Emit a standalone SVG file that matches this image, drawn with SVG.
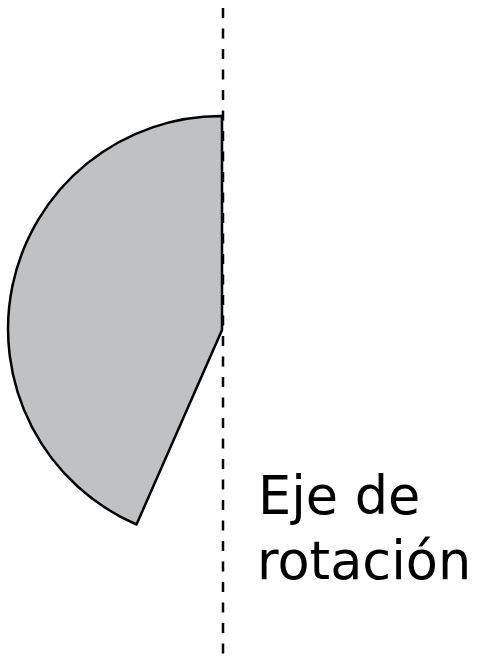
<svg xmlns="http://www.w3.org/2000/svg" width="478" height="656" viewBox="0 0 478 656">
<style>
.axis{stroke:#000;stroke-width:2.5;stroke-dasharray:10 10.5;stroke-dashoffset:-8;fill:none}
.sector{fill:#bfc1c3;stroke:#000;stroke-width:2.5;stroke-linejoin:round}
.lbl{font-family:"DejaVu Sans",Verdana,sans-serif;font-size:52.5px;fill:#000}
</style>
<rect width="478" height="656" fill="#fff"/>
<g id="sector">
<path class="sector" d="M222,116 A213,213 0 0 0 136.5,524.5 L222,330 Z"/>
</g>
<g id="connectors">
<line class="axis" x1="223" y1="0" x2="223" y2="656"/>
</g>
<g id="label">
<text class="lbl" x="258" y="514">Eje de</text>
<text class="lbl" x="257" y="579">rotación</text>
</g>
</svg>
